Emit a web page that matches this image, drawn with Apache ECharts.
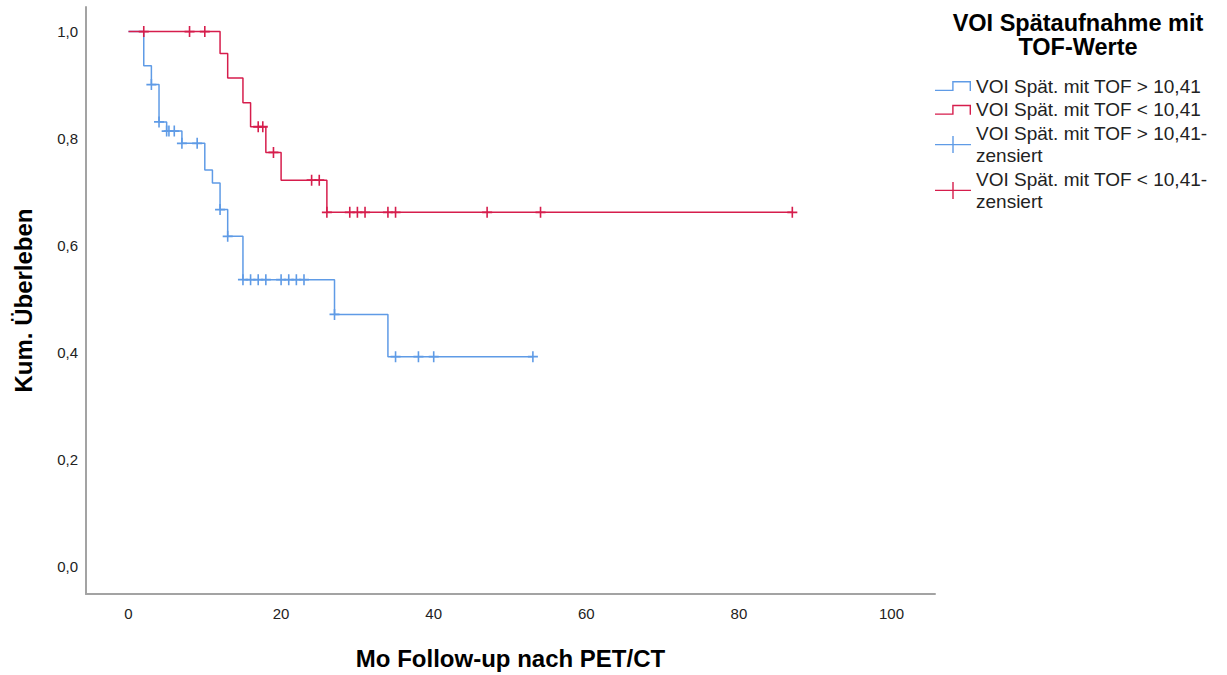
<!DOCTYPE html>
<html>
<head>
<meta charset="utf-8">
<script src="https://cdn.jsdelivr.net/npm/echarts@6/dist/echarts.min.js"></script>
<style>html,body{margin:0;padding:0;background:#fff;}#c{width:1227px;height:675px;}</style>
</head>
<body>
<div id="c"></div>
<script>
// ---- data ----
const xTicks = [0, 20, 40, 60, 80, 100];
const yTicks = [0, 0.2, 0.4, 0.6, 0.8, 1.0];

const blueTimes = [0, 2, 3, 4, 5, 7, 10, 11, 12, 13, 15, 27, 34, 53];
const blueSurv  = [1.0, 0.936, 0.901, 0.831, 0.814, 0.791, 0.741, 0.717, 0.667, 0.617, 0.536, 0.471, 0.392, 0.392];
const blueCensor = [3, 4, 5, 5.3, 6, 7, 9, 12, 13, 15, 16, 17, 18, 20, 21, 22, 23, 27, 35, 38, 40, 53];

const redTimes = [0, 12, 13, 15, 16, 18, 20, 26, 87];
const redSurv  = [1.0, 0.959, 0.913, 0.867, 0.822, 0.774, 0.722, 0.662, 0.662];
const redCensor = [2, 8, 10, 17, 17.6, 19, 24, 25, 26, 29, 30, 31, 34, 35, 47, 54, 87];

const names = [
  'VOI Spät. mit TOF > 10,41',
  'VOI Spät. mit TOF < 10,41',
  'VOI Spät. mit TOF > 10,41-zensiert',
  'VOI Spät. mit TOF < 10,41-zensiert'
];

// ---- helpers ----
function stepAt(times, surv, t) {
  let v = surv[0];
  for (let i = 0; i < times.length; i++) { if (times[i] <= t) v = surv[i]; }
  return v;
}
const blueLine = blueTimes.map((t, i) => [t, blueSurv[i]]);
const redLine = redTimes.map((t, i) => [t, redSurv[i]]);
const blueMarks = blueCensor.map(t => [t, stepAt(blueTimes, blueSurv, t)]);
const redMarks = redCensor.map(t => [t, stepAt(redTimes, redSurv, t)]);

const BLUE = '#5f9be6';
const RED = '#d61d4c';
const FONT = '"Liberation Sans", Arial, sans-serif';

const plusSym = 'path://M-0.8,-5 H0.8 V-0.8 H5 V0.8 H0.8 V5 H-0.8 V0.8 H-5 V-0.8 H-0.8 Z';
const stepIcon = 'path://M0,0 L0,0 Z M36,17 L36,17 Z M0,12.2 H17.2 V3.5 H36 V13.5 H34.6 V4.9 H18.6 V13.5 H0 Z';
const crossIcon = 'path://M0,7.8 H17.3 V0 H18.7 V7.8 H36 V9.2 H18.7 V17 H17.3 V9.2 H0 Z';

const chart = echarts.init(document.getElementById('c'), null, { renderer: 'svg' });
chart.setOption({
  animation: false,
  backgroundColor: '#fff',
  textStyle: { fontFamily: FONT },
  grid: { left: 86, top: 7, right: 292, bottom: 75, containLabel: false },
  graphic: [{
    type: 'text',
    x: 1078,
    y: 11,
    style: {
      text: 'VOI Spätaufnahme mit\nTOF-Werte',
      align: 'center',
      textAlign: 'center',
      verticalAlign: 'top',
      font: 'bold 23.5px ' + FONT,
      lineHeight: 24,
      fill: '#000'
    }
  }],
  legend: {
    orient: 'vertical',
    left: 935,
    top: 75,
    padding: 0,
    itemWidth: 36,
    itemHeight: 17,
    itemGap: 1.8,
    selectedMode: false,
    textStyle: { fontSize: 19, lineHeight: 22, color: '#222', fontFamily: FONT },
    formatter: n => n.replace('-zensiert', '-\nzensiert'),
    data: [
      { name: names[0], icon: stepIcon, itemStyle: { color: BLUE } },
      { name: names[1], icon: stepIcon, itemStyle: { color: RED } },
      { name: names[2], icon: crossIcon, itemStyle: { color: BLUE } },
      { name: names[3], icon: crossIcon, itemStyle: { color: RED } }
    ]
  },
  xAxis: {
    type: 'value',
    min: -5.57,
    max: 105.7,
    name: 'Mo Follow-up nach PET/CT',
    nameLocation: 'middle',
    nameGap: 52,
    nameTextStyle: { fontSize: 24, fontWeight: 'bold', color: '#000', fontFamily: FONT },
    axisLine: { show: true, onZero: false, lineStyle: { color: '#a3a3a3', width: 2 } },
    axisTick: { show: false },
    splitLine: { show: false },
    axisLabel: {
      customValues: xTicks,
      margin: 12,
      fontSize: 15,
      color: '#222',
      formatter: v => String(v)
    }
  },
  yAxis: {
    type: 'value',
    min: -0.052,
    max: 1.046,
    name: 'Kum. Überleben',
    nameLocation: 'middle',
    nameRotate: 90,
    nameGap: 51,
    nameTextStyle: { fontSize: 24, fontWeight: 'bold', color: '#000', fontFamily: FONT },
    axisLine: { show: true, onZero: false, lineStyle: { color: '#a3a3a3', width: 2 } },
    axisTick: { show: false },
    splitLine: { show: false },
    axisLabel: {
      customValues: yTicks,
      margin: 8,
      fontSize: 15,
      color: '#222',
      formatter: v => v.toFixed(1).replace('.', ',')
    }
  },
  series: [
    {
      name: names[0], type: 'line', step: 'end', data: blueLine,
      showSymbol: false, symbol: 'none',
      lineStyle: { color: BLUE, width: 1.5 }, itemStyle: { color: BLUE }, z: 2
    },
    {
      name: names[1], type: 'line', step: 'end', data: redLine,
      showSymbol: false, symbol: 'none',
      lineStyle: { color: RED, width: 1.5 }, itemStyle: { color: RED }, z: 3
    },
    {
      name: names[2], type: 'scatter', data: blueMarks,
      symbol: plusSym, symbolSize: [10, 11],
      itemStyle: { color: BLUE, opacity: 1 }, z: 4
    },
    {
      name: names[3], type: 'scatter', data: redMarks,
      symbol: plusSym, symbolSize: [10, 11],
      itemStyle: { color: RED, opacity: 1 }, z: 5
    }
  ]
});
</script>
</body>
</html>
